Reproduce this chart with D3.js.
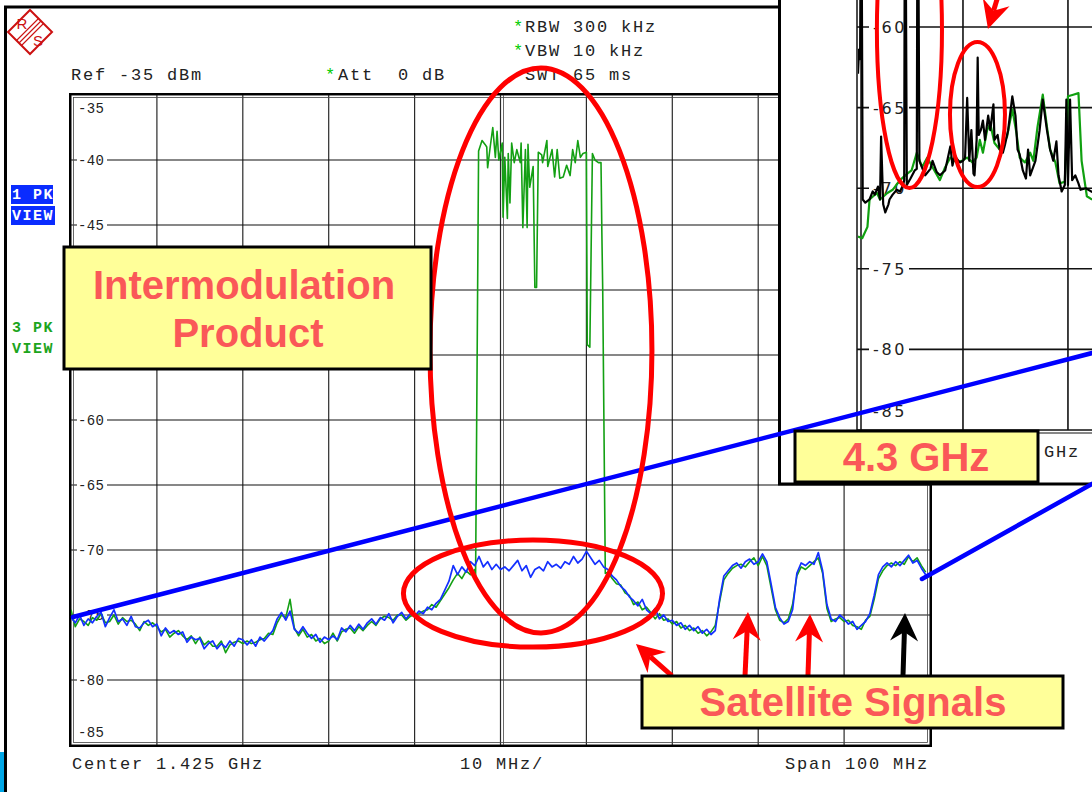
<!DOCTYPE html>
<html><head><meta charset="utf-8">
<script src="https://cdn.jsdelivr.net/npm/d3@7"></script>
<style>body{margin:0;background:#fff}svg{display:block}text{white-space:pre}</style>
</head><body><svg id="c" width="1092" height="792"></svg>
<script>
// ---------------- DATA ----------------
const sweepStart = 1375, sweepStep = 0.5;        // MHz
const freqTicks = [1375,1385,1395,1405,1415,1425,1435,1445,1455,1465,1475];
const levelTicks = [-35,-40,-45,-50,-55,-60,-65,-70,-75,-80,-85];
const hiddenLabels = [-50,-55];   // covered by the callout in the reference

// Trace 1 (blue, 1 PK VIEW) dBm on 0.5 MHz grid from 1375 MHz
const blueLevel = [
-75.2,-75.6,-75.0,-75.8,-75.3,-75.6,-75.1,-74.8,-75.9,-75.2,-74.6,-75.5,-75.3,-75.8,-75.1,-75.9,-76.0,-75.6,-75.4,-75.9,-75.7,
-76.6,-76.0,-76.4,-76.2,-76.5,-76.3,-77.1,-76.7,-76.9,-76.8,-77.6,-77.2,-77.0,-77.6,-77.2,-77.5,-77.0,-77.4,-76.8,-76.9,
-77.3,-76.9,-77.4,-76.7,-77.0,-76.6,-76.2,-75.3,-74.8,-75.4,-74.7,-76.1,-76.4,-75.9,-76.4,-76.8,-76.5,-77.1,-76.7,-76.9,
-76.6,-76.9,-76.0,-76.3,-75.8,-76.2,-75.7,-76.1,-75.6,-75.3,-75.7,-75.2,-75.4,-74.9,-75.6,-75.1,-74.8,-75.3,-74.9,-75.1,
-74.7,-74.9,-74.4,-74.6,-74.1,-73.8,-73.1,-72.4,-71.2,-71.9,-71.3,-71.7,-70.9,-71.2,-70.5,-71.3,-70.9,-71.5,-71.1,-71.5,
-71.3,-71.6,-71.2,-70.8,-71.6,-71.2,-72.1,-71.5,-71.3,-71.6,-70.9,-71.3,-71.1,-71.4,-70.9,-71.1,-70.5,-71.0,-70.7,-70.1,
-70.6,-71.1,-70.8,-71.3,-71.5,-72.0,-72.3,-72.8,-73.1,-73.6,-73.9,-74.3,-73.8,-74.6,-74.9,-74.5,-75.3,-75.0,-75.5,-75.4,
-75.8,-75.6,-76.1,-75.8,-76.2,-75.9,-76.4,-76.1,-76.5,-76.2,-73.8,-72.0,-71.6,-71.2,-71.0,-71.4,-70.9,-70.7,-71.1,-70.9,
-70.3,-70.9,-72.6,-74.4,-75.2,-75.7,-75.5,-74.6,-71.8,-71.0,-71.2,-70.9,-71.1,-70.2,-71.6,-74.2,-75.3,-75.5,-75.0,-75.3,
-75.7,-75.5,-76.1,-75.8,-75.5,-74.9,-73.5,-71.9,-71.3,-71.0,-71.3,-70.9,-71.2,-70.8,-70.4,-71.0,-70.8,-71.4,-71.9
];
// Trace 3 (green, 3 PK VIEW): 1375 .. 1421.5 MHz on grid
const greenLow = [
-74.6,-75.9,-75.3,-75.5,-75.8,-75.2,-75.4,-74.9,-75.6,-75.5,-75.0,-75.7,-75.2,-75.5,-75.4,-75.7,-76.2,-75.5,-75.8,-75.6,-75.9,
-76.3,-76.1,-76.7,-76.4,-76.2,-76.6,-76.9,-76.6,-77.2,-76.7,-77.3,-77.0,-77.4,-77.4,-77.0,-77.9,-77.3,-77.1,-77.0,-77.2,
-77.0,-77.2,-77.1,-76.9,-76.8,-76.4,-76.5,-75.6,-75.0,-75.2,-73.8,-76.0,-76.6,-76.1,-76.7,-76.5,-77.0,-76.8,-77.2,-77.0,
-76.4,-77.0,-76.3,-76.1,-76.0,-76.4,-75.9,-76.2,-75.8,-75.5,-75.8,-75.3,-75.1,-75.2,-75.4,-75.0,-75.0,-75.4,-75.1,-75.0,
-74.9,-74.7,-74.6,-74.2,-74.4,-73.9,-73.4,-72.9,-72.3,-71.8,-72.2,-71.6,-71.9
];
// green intermodulation product band (irregular sweep points)
const greenBandFreq = [1422.0,1422.1,1422.45,1422.85,1423.2,1423.4,1423.5,1423.8,1424.1,1424.4,1424.6,1424.8,1425.2,1425.3,1425.5,1425.8,1425.9,1426.1,1426.3,1426.6,1426.9,1427.3,1427.4,1427.6,1427.9,1428.1,1428.2,1428.4,1428.8,1429.0,1429.2,1429.4,1429.8,1429.9,1430.4,1430.5,1431.0,1431.3,1431.6,1431.9,1432.3,1432.7,1433.1,1433.4,1433.7,1434.0,1434.3,1434.6,1435.0,1435.1,1435.4,1435.7,1436.0,1436.4,1436.7,1436.8,1436.9,1437.2];
const greenBandLevel = [-71.5,-72.0,-39.3,-38.5,-38.8,-39.0,-40.6,-39.0,-37.5,-39.8,-37.8,-40.0,-38.7,-44.4,-39.8,-44.5,-39.5,-43.3,-38.7,-40.2,-39.2,-40.2,-38.7,-45.2,-39.2,-45.2,-38.8,-42.1,-40.5,-49.8,-49.8,-39.4,-39.6,-40.2,-38.5,-40.5,-39.2,-41.3,-39.2,-41.4,-41.3,-40.4,-41.2,-39.2,-40.2,-38.5,-39.8,-39.5,-39.4,-54.2,-54.4,-39.5,-40.0,-40.2,-40.2,-45.6,-50.0,-71.8];
// green 1437.5 .. 1474.5 MHz on grid
const greenHighStart = 1437.5;
const greenHigh = [
-71.7,-72.2,-72.6,-72.7,-73.3,-73.5,-74.2,-74.0,-74.6,-74.4,-74.8,-75.3,-74.9,-75.4,-75.3,-75.7,
-75.5,-76.0,-75.8,-76.2,-76.0,-76.4,-76.2,-76.6,-76.3,-75.8,-74.0,-72.3,-71.8,-71.4,-71.2,-71.1,-71.3,-70.9,-70.6,-71.2,
-70.5,-71.2,-72.9,-74.6,-75.4,-75.6,-75.3,-74.2,-72.0,-71.3,-71.5,-71.2,-70.9,-70.6,-71.8,-74.5,-75.5,-75.3,-75.2,-75.5,
-75.4,-75.8,-75.9,-76.1,-75.4,-75.1,-73.8,-72.2,-71.6,-71.2,-71.0,-71.2,-70.9,-71.1,-70.5,-70.9,-70.6,-71.2,-71.7
];

// Inset (4.3 GHz): offset MHz from the left edge, dBm
const insetGridFreq = [10, 20];
const insetTicks = [-60,-65,-70,-75,-80];
const insetBlackFreq = [0.0,0.1,0.2,0.25,0.35,0.45,0.7,1.1,1.4,1.6,1.9,2.1,2.2,2.4,2.6,2.9,3.0,3.3,3.7,4.0,4.3,4.4,4.45,4.55,4.65,5.0,5.4,5.6,5.65,5.75,5.85,6.4,6.9,7.1,7.5,7.8,8.3,8.8,9.0,9.2,9.7,10.0,10.2,10.4,10.6,10.8,11.0,11.1,11.3,11.4,11.5,11.7,11.9,12.1,12.4,12.6,12.9,13.0,13.3,13.5,13.8,14.0,14.3,14.7,15.0,15.2,15.4,15.7,16.0,16.2,16.4,16.9,17.3,17.6,18.0,18.3,18.6,18.9,19.1,19.4,19.7,19.85,20.0,20.2,20.4,20.7,21.0,21.2,21.7,22.2,22.6];
const insetBlackLevel = [-62.9,-61.4,-62.0,-55,-55,-70.7,-70.9,-70.7,-70.2,-70.4,-69.9,-70.7,-66.8,-71.0,-71.5,-71.0,-70.7,-70.4,-70.1,-70.2,-69.8,-69.5,-55,-55,-69.8,-69.4,-68.9,-68.8,-55,-55,-68.3,-69.2,-68.8,-68.3,-69.0,-69.2,-68.9,-67.4,-68.6,-68.0,-68.4,-68.3,-68.1,-64.4,-68.3,-66.4,-69.1,-69.2,-67.0,-61.9,-66.7,-66.4,-65.8,-67.0,-65.5,-66.4,-64.8,-67.0,-66.7,-67.6,-67.8,-67.3,-66.4,-64.3,-65.5,-67.6,-67.9,-68.9,-69.4,-67.6,-69.2,-68.3,-66.4,-64.5,-66.4,-67.6,-68.3,-67.1,-69.2,-70.2,-69.8,-64.5,-69.8,-64.5,-69.5,-69.2,-69.7,-70.1,-70.0,-70.2,-70.3];
const insetGreenFreq = [0.0,0.4,0.9,1.1,1.8,2.1,2.8,3.3,4.0,4.7,5.1,5.6,6.1,6.6,7.1,7.8,8.3,8.8,9.4,9.9,10.4,10.9,11.3,11.6,11.9,12.3,12.6,13.0,13.5,14.2,14.7,15.1,15.4,15.9,16.4,16.7,17.1,17.6,18.0,18.3,18.8,19.2,19.7,20.0,20.5,21.0,21.3,21.8,22.3];
const insetGreenLevel = [-73.0,-73.1,-72.4,-70.7,-70.3,-70.7,-70.3,-70.1,-69.5,-69.1,-68.9,-67.8,-68.7,-68.1,-68.7,-69.5,-68.7,-68.1,-68.4,-68.3,-68.1,-68.4,-68.1,-67.0,-67.8,-66.4,-66.0,-67.2,-67.6,-66.8,-65.1,-66.6,-68.1,-68.4,-67.8,-68.3,-66.2,-64.2,-66.2,-67.6,-68.4,-69.7,-69.6,-64.3,-64.2,-64.1,-68.3,-70.5,-70.7];

// ---------------- DRAW ----------------
const MONO = "'Courier New','Liberation Mono',monospace";
const SANS = "'Liberation Sans',Arial,sans-serif";
const svg = d3.select('#c');
svg.append('rect').attr('width',1092).attr('height',792).attr('fill','#fff');

const x = d3.scaleLinear().domain([1375,1475]).range([71,930]);
const y = d3.scaleLinear().domain([-85,-35]).range([745,95]);

// outer instrument frame
svg.append('rect').attr('x',0).attr('y',752).attr('width',4).attr('height',40).attr('fill','#00a6e6');
svg.append('line').attr('x1',5.5).attr('y1',6).attr('x2',5.5).attr('y2',792).attr('stroke','#000').attr('stroke-width',3);
svg.append('line').attr('x1',4).attr('y1',7).attr('x2',780).attr('y2',7).attr('stroke','#000').attr('stroke-width',3);

// R&S logo
const logo = svg.append('g').attr('transform','translate(30,32)');
logo.append('polygon').attr('points','0,-22 22,0 0,22 -22,0').attr('fill','#fff').attr('stroke','#cc1111').attr('stroke-width',2);
[-2.5,0,2.5].forEach(d=>logo.append('line').attr('x1',d-11).attr('y1',d+11).attr('x2',d+11).attr('y2',d-11).attr('stroke','#cc1111').attr('stroke-width',1.1));
logo.append('text').attr('x',-8).attr('y',-3).attr('font-family',SANS).attr('font-size',15).attr('fill','#cc1111').attr('text-anchor','middle').text('R');
logo.append('text').attr('x',8).attr('y',14).attr('font-family',SANS).attr('font-size',15).attr('fill','#cc1111').attr('text-anchor','middle').text('S');

function mono(t, px, py, opt={}){
  return svg.append('text').attr('x',px).attr('y',py).attr('font-family',MONO)
    .attr('font-size',opt.size||17).attr('letter-spacing',opt.ls!=null?opt.ls:1.8)
    .attr('font-weight',opt.weight||'normal').attr('fill',opt.fill||'#222')
    .attr('text-anchor',opt.anchor||'start').attr('xml:space','preserve').text(t);
}
// header
mono('Ref -35 dBm',71,80);
mono('*',325,80,{fill:'#00cc00'});
mono('Att  0 dB',338,80);
mono('*',513,32,{fill:'#00cc00'});
mono('RBW 300 kHz',525,32);
mono('*',513,56,{fill:'#00cc00'});
mono('VBW 10 kHz',525,56);
mono('SWT 65 ms',525,80);

// plot frame + grid
const grid = svg.append('g');
freqTicks.forEach(f=>grid.append('line').attr('x1',x(f)).attr('x2',x(f)).attr('y1',95).attr('y2',745).attr('stroke','#2a2a2a').attr('stroke-width',1.2));
levelTicks.forEach(v=>grid.append('line').attr('x1',71).attr('x2',930).attr('y1',y(v)).attr('y2',y(v)).attr('stroke','#111').attr('stroke-width',1.2));
grid.append('rect').attr('x',70).attr('y',94).attr('width',861).attr('height',652).attr('fill','none').attr('stroke','#000').attr('stroke-width',2);
grid.append('rect').attr('x',73.5).attr('y',97.5).attr('width',854).attr('height',645).attr('fill','none').attr('stroke','#444').attr('stroke-width',0.8);
grid.append('line').attr('x1',x(1425)+3).attr('x2',x(1425)+3).attr('y1',95).attr('y2',745).attr('stroke','#444').attr('stroke-width',0.8);

// y labels
levelTicks.filter(v=>!hiddenLabels.includes(v)).forEach(v=>{
  let ly = y(v);
  if (v===-35) ly = 108; else if (v===-85) ly = 732;
  else grid.append('rect').attr('x',77).attr('y',ly-7).attr('width',30).attr('height',14).attr('fill','#fff');
  grid.append('text').attr('x',78).attr('y',ly+5).attr('font-family',MONO).attr('font-size',14)
    .attr('letter-spacing',0.3).attr('fill','#222').text(String(v));
});

// traces
const clip = svg.append('clipPath').attr('id','plotclip');
clip.append('rect').attr('x',71).attr('y',95).attr('width',859).attr('height',650);
const line = d3.line().x(d=>x(d[0])).y(d=>y(d[1]));
const blueTrace = blueLevel.map((v,i)=>[sweepStart+sweepStep*i, v]);
const greenTrace = greenLow.map((v,i)=>[sweepStart+sweepStep*i, v])
  .concat(greenBandFreq.map((f,i)=>[f, greenBandLevel[i]]))
  .concat(greenHigh.map((v,i)=>[greenHighStart+sweepStep*i, v]));
const tg = svg.append('g').attr('clip-path','url(#plotclip)');
tg.append('path').attr('d',line(greenTrace)).attr('fill','none').attr('stroke','#13a013').attr('stroke-width',1.6).attr('stroke-linejoin','round');
tg.append('path').attr('d',line(blueTrace)).attr('fill','none').attr('stroke','#1430ff').attr('stroke-width',1.7).attr('stroke-linejoin','round');

// bottom labels
mono('Center 1.425 GHz',72,769);
mono('10 MHz/',460,769);
mono('Span 100 MHz',929,769,{anchor:'end'});

// left labels
svg.append('rect').attr('x',11).attr('y',185).attr('width',42).attr('height',19).attr('fill','#0a2cff');
svg.append('rect').attr('x',11).attr('y',206).attr('width',44).attr('height',19).attr('fill','#0a2cff');
mono('1 PK',12,199,{size:15,ls:1.5,weight:'bold',fill:'#fff'});
mono('VIEW',12,220,{size:15,ls:1.5,weight:'bold',fill:'#fff'});
mono('3 PK',12,332,{size:15,ls:1.5,weight:'bold',fill:'#1da51d'});
mono('VIEW',12,353,{size:15,ls:1.5,weight:'bold',fill:'#1da51d'});

// ---------------- INSET ----------------
const ix = d3.scaleLinear().domain([0,22.29]).range([858,1092]);
const iy = d3.scaleLinear().domain([-85,-60]).range([430,27]);
const inset = svg.append('g');
inset.append('rect').attr('x',779.5).attr('y',-5).attr('width',320).attr('height',489).attr('fill','#fff').attr('stroke','#000').attr('stroke-width',3);
insetTicks.concat([-85]).forEach(v=>inset.append('line').attr('x1',857).attr('x2',1092).attr('y1',iy(v)).attr('y2',iy(v)).attr('stroke','#111').attr('stroke-width',1.6));
insetGridFreq.forEach(f=>inset.append('line').attr('x1',ix(f)).attr('x2',ix(f)).attr('y1',0).attr('y2',430).attr('stroke','#111').attr('stroke-width',1.6));
[857,861].forEach(px=>inset.append('line').attr('x1',px).attr('x2',px).attr('y1',0).attr('y2',432).attr('stroke','#111').attr('stroke-width',1.5));
inset.append('line').attr('x1',857).attr('x2',1092).attr('y1',433).attr('y2',433).attr('stroke','#111').attr('stroke-width',1);
insetTicks.forEach(v=>{
  inset.append('rect').attr('x',869).attr('y',iy(v)-9).attr('width',40).attr('height',18).attr('fill','#fff');
  inset.append('text').attr('x',907).attr('y',iy(v)+6).attr('text-anchor','end').attr('font-family',"'DejaVu Sans',sans-serif")
    .attr('font-size',16).attr('letter-spacing',2.6).attr('fill','#222').text(String(v));
});
inset.append('text').attr('x',907).attr('y',417).attr('text-anchor','end').attr('font-family',"'DejaVu Sans',sans-serif")
  .attr('font-size',16).attr('letter-spacing',2.6).attr('fill','#222').text('-85');
// only the unit of the inset's centre label is visible beside the callout
inset.append('text').attr('x',1080).attr('y',457).attr('text-anchor','end').attr('font-family',MONO)
  .attr('font-size',17).attr('letter-spacing',1.8).attr('fill','#222').text('GHz');

const iclip = svg.append('clipPath').attr('id','insetclip');
iclip.append('rect').attr('x',858).attr('y',0).attr('width',234).attr('height',430);
const iline = d3.line().x(d=>ix(d[0])).y(d=>iy(d[1]));
const ig = inset.append('g').attr('clip-path','url(#insetclip)');
ig.append('path').attr('d',iline(insetGreenFreq.map((f,i)=>[f,insetGreenLevel[i]]))).attr('fill','none').attr('stroke','#10a010').attr('stroke-width',2.2).attr('stroke-linejoin','round');
ig.append('path').attr('d',iline(insetBlackFreq.map((f,i)=>[f,insetBlackLevel[i]]))).attr('fill','none').attr('stroke','#000').attr('stroke-width',2.2).attr('stroke-linejoin','round');

// inset annotations (data coords of inset)
const ann = svg.append('g');
function ellipse(g, sx, sy, cf, cv, rf, rv, w){
  g.append('ellipse').attr('cx',sx(cf)).attr('cy',sy(cv))
    .attr('rx',Math.abs(sx(cf+rf)-sx(cf))).attr('ry',Math.abs(sy(cv+rv)-sy(cv)))
    .attr('fill','none').attr('stroke','#ff0000').attr('stroke-width',w);
}
function arrow(g, x1,y1,x2,y2,color){
  const dx=x2-x1, dy=y2-y1, len=Math.hypot(dx,dy), ux=dx/len, uy=dy/len, px=-uy, py=ux;
  const L=28, Wd=14, N=9;
  g.append('line').attr('x1',x1).attr('y1',y1).attr('x2',x2-ux*(L-N)).attr('y2',y2-uy*(L-N)).attr('stroke',color).attr('stroke-width',5);
  const pts=[[x2,y2],[x2-ux*L+px*Wd,y2-uy*L+py*Wd],[x2-ux*(L-N),y2-uy*(L-N)],[x2-ux*L-px*Wd,y2-uy*L-py*Wd]];
  g.append('polygon').attr('points',pts.map(p=>p.join(',')).join(' ')).attr('fill',color);
}
const ia = ann.append('g').attr('clip-path','url(#insetclip)');
ellipse(ia, ix, iy, 4.9, -60.19, 3.1, 9.8, 4);
ellipse(ia, ix, iy, 11.38, -65.43, 2.62, 4.5, 4);
arrow(ann, ix(13.81), iy(-57.08), ix(12.38), iy(-60.12), '#ff0000');

// blue connector lines (main data coords)
const blueLinks = [[[1375.23,-75.15],[1493.86,-54.85]], [[1474.06,-72.23],[1493.86,-64.92]]];
blueLinks.forEach(l=>ann.append('line').attr('x1',x(l[0][0])).attr('y1',y(l[0][1])).attr('x2',x(l[1][0])).attr('y2',y(l[1][1]))
  .attr('stroke','#0000ff').attr('stroke-width',4.5).attr('stroke-linecap','round'));

// main red ellipses
ellipse(ann, x, y, 1429.71, -54.65, 12.92, 21.73, 5);
ellipse(ann, x, y, 1428.78, -73.35, 15.08, 4.12, 5);

// arrows to satellite signals
const arrows = [
  [[1444.96,-79.69],[1440.77,-77.23],'#ff0000'],
  [[1453.46,-79.77],[1453.81,-74.77],'#ff0000'],
  [[1460.79,-79.77],[1461.03,-74.92],'#ff0000'],
  [[1471.85,-79.77],[1472.09,-74.85],'#000000']
];
arrows.forEach(a=>arrow(ann, x(a[0][0]), y(a[0][1]), x(a[1][0]), y(a[1][1]), a[2]));

// yellow callout boxes
function callout(bx,by,bw,bh,lines){
  const g = svg.append('g');
  g.append('rect').attr('x',bx).attr('y',by).attr('width',bw).attr('height',bh).attr('fill','#ffff99').attr('stroke','#000').attr('stroke-width',3);
  lines.forEach(l=>g.append('text').attr('x',l[1]).attr('y',l[2]).attr('text-anchor','middle').attr('font-family',SANS)
    .attr('font-weight','bold').attr('font-size',40).attr('fill','#fa5858').text(l[0]));
}
callout(64,247,367,122,[['Intermodulation',244,299],['Product',248,347]]);
callout(642,676,421,52,[['Satellite Signals',853,716]]);
callout(795,431,243,51,[['4.3 GHz',916,471]]);
</script>
</body></html>
